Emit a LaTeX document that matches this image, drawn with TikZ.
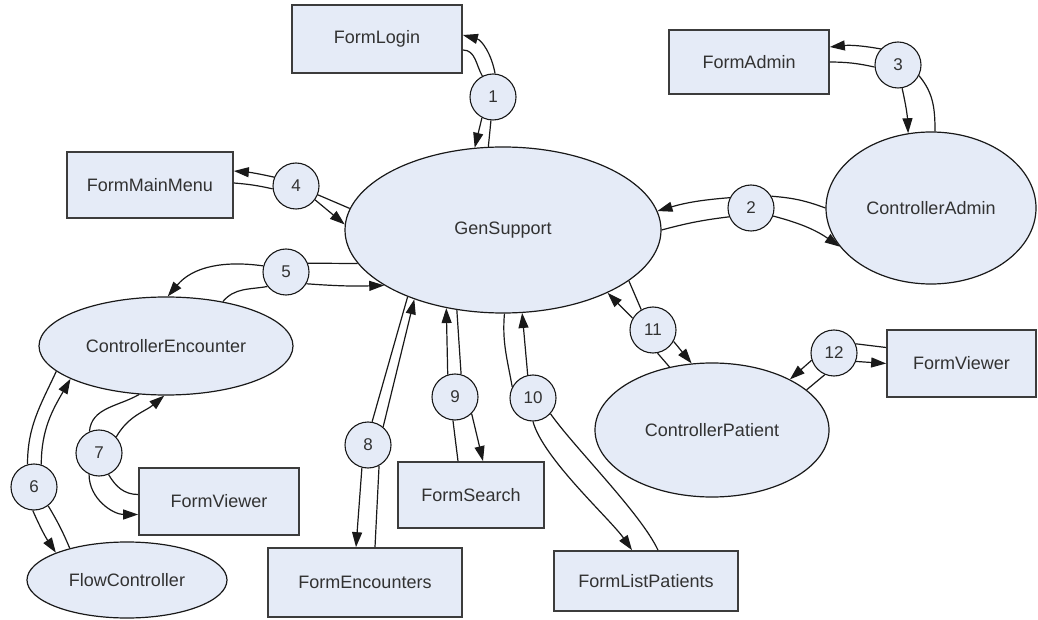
\documentclass[tikz,border=0pt]{standalone}
\usepackage{fontspec}
\setmainfont{Liberation Sans}
\usetikzlibrary{shapes.geometric,arrows.meta,calc}
\definecolor{nodefill}{RGB}{229,235,247}
\definecolor{boxcol}{RGB}{60,60,60}
\definecolor{edgecol}{RGB}{25,25,25}
\definecolor{txtcol}{RGB}{50,50,50}
\begin{document}
\begin{tikzpicture}[x=1pt,y=1pt,
  box/.style 2 args={rectangle, draw=boxcol, line width=1.7pt, fill=nodefill,
    minimum width=#1, minimum height=#2, inner sep=0pt, text=txtcol,
    font=\fontsize{18}{21}\selectfont},
  ell/.style 2 args={ellipse, draw=edgecol, line width=1.2pt, fill=nodefill,
    minimum width=#1, minimum height=#2, inner sep=0pt, text=txtcol,
    font=\fontsize{18}{21}\selectfont},
  num/.style={circle, draw=edgecol, line width=1.1pt, fill=nodefill,
    minimum size=46pt, inner sep=0pt, text=txtcol,
    font=\fontsize{17}{20}\selectfont},
  link/.style={draw=edgecol, line width=1.2pt},
  arr/.style={link, -{Triangle[length=15pt,width=10pt]}}]
\useasboundingbox (0,0) rectangle (1038,619);

% main nodes
\node[box={170}{68}] (login) at (377,580) {FormLogin};
\node[box={160}{64}] (admin) at (749,557) {FormAdmin};
\node[box={166}{66}] (mainmenu) at (150,434) {FormMainMenu};
\node[ell={316}{166}] (gen) at (503,389) {GenSupport};
\node[ell={210}{152}] (cadmin) at (931,411) {ControllerAdmin};
\node[ell={254}{98}] (cenc) at (166,273) {ControllerEncounter};
\node[box={160}{67}] (viewerL) at (219,117.5) {FormViewer};
\node[ell={200}{76}] (flow) at (127,39) {FlowController};
\node[box={194}{69}] (encs) at (365,36.5) {FormEncounters};
\node[box={146}{66}] (search) at (471,124) {FormSearch};
\node[box={184}{60}] (listp) at (646,38) {FormListPatients};
\node[ell={234}{134}] (cpat) at (712,189) {ControllerPatient};
\node[box={149}{67}] (viewerR) at (961.5,255.5) {FormViewer};

% numbered circles
\node[num] (c1) at (493,522) {1};
\node[num] (c2) at (751,411) {2};
\node[num] (c3) at (898,554) {3};
\node[num] (c4) at (296,433) {4};
\node[num] (c5) at (286,347) {5};
\node[num] (c6) at (34,132) {6};
\node[num] (c7) at (99,166) {7};
\node[num] (c8) at (368,174) {8};
\node[num] (c9) at (455,222) {9};
\node[num] (c10) at (533,221) {10};
\node[num] (c11) at (653,289) {11};
\node[num] (c12) at (834,266) {12};

% link 1
\draw[link] (gen.100) -- (c1.265);
\draw[arr] (c1.85) to[out=100,in=-15] ($(login.east)+(0,4)$);
\draw[link] ($(login.east)+(0,-11)$) to[out=0,in=120] (c1.117);
\draw[arr] (c1.242) -- (gen.109);

% link 2
\draw[link] (cadmin.180) to[bend right=8] (c2.30);
\draw[arr] (c2.154) to[bend right=6] (gen.7);
\draw[link] (gen.0) to[bend left=4] (c2.202);
\draw[arr] (c2.340) to[bend left=10] (cadmin.203);

% link 3
\draw[link] (cadmin.87) to[out=90,in=-50] (c3.333);
\draw[arr] (c3.137) to[bend right=8] ($(admin.east)+(0,15)$);
\draw[link] (admin.east) to[bend left=6] (c3.185);
\draw[arr] (c3.280) to[bend left=5] (cadmin.107);

% link 4
\draw[link] (gen.172) -- (c4.338);
\draw[arr] (c4.158) to[bend right=4] ($(mainmenu.east)+(0,14)$);
\draw[link] ($(mainmenu.east)+(0,2)$) to[bend left=4] (c4.187);
\draw[arr] (c4.324) -- (gen.178);

% link 5
\draw[link] (gen.193) -- (c5.22);
\draw[arr] (c5.165) to[out=172,in=50] (cenc.88);
\draw[link] (cenc.38) to[out=50,in=190] (c5.218);
\draw[arr] (c5.330) to[bend right=3] (gen.205);

% link 6
\draw[link] (cenc.193) to[out=245,in=90] (c6.106);
\draw[arr] (c6.267) to[bend right=5] (flow.159);
\draw[link] (flow.151) to[bend right=4] (c6.307);
\draw[arr] (c6.72) to[out=90,in=240] (cenc.199);

% link 7
\draw[link] (cenc.241) to[out=210,in=85] (c7.114);
\draw[arr] (c7.245) to[out=270,in=180] ($(viewerL.west)+(0,-13)$);
\draw[link] ($(viewerL.west)+(0,7)$) to[out=180,in=-60] (c7.294);
\draw[arr] (c7.43) to[out=60,in=220] (cenc.268);

% link 8
\draw[link] (gen.215) -- (c8.80);
\draw[arr] (c8.255) -- ($(encs.north)+(-9,0)$);
\draw[link] ($(encs.north)+(10,0)$) -- (c8.298);
\draw[arr] (c8.50) -- (gen.218);

% link 9
\draw[link] (gen.240) -- (c9.75);
\draw[arr] (c9.315) -- ($(search.north)+(12,0)$);
\draw[link] ($(search.north)+(-13,0)$) -- (c9.265);
\draw[arr] (c9.108) -- (gen.234);

% link 10
\draw[link] (gen.271) to[out=-95,in=100] (c10.152);
\draw[arr] (c10.270) to[out=-75,in=125,looseness=0.6] ($(listp.north)+(-14,0)$);
\draw[link] ($(listp.north)+(12,0)$) to[out=115,in=-55,looseness=0.6] (c10.318);
\draw[arr] (c10.103) -- (gen.283);

% link 11
\draw[link] (gen.338) -- (c11.120);
\draw[arr] (c11.331) -- (cpat.107);
\draw[link] (cpat.124) -- (c11.281);
\draw[arr] (c11.150) -- (gen.329);

% link 12
\draw[link] (cpat.23) -- (c12.247);
\draw[arr] (c12.339) -- (viewerR.west);
\draw[link] ($(viewerR.west)+(0,16)$) -- (c12.23);
\draw[arr] (c12.198) -- (cpat.33);
\end{tikzpicture}
\end{document}
